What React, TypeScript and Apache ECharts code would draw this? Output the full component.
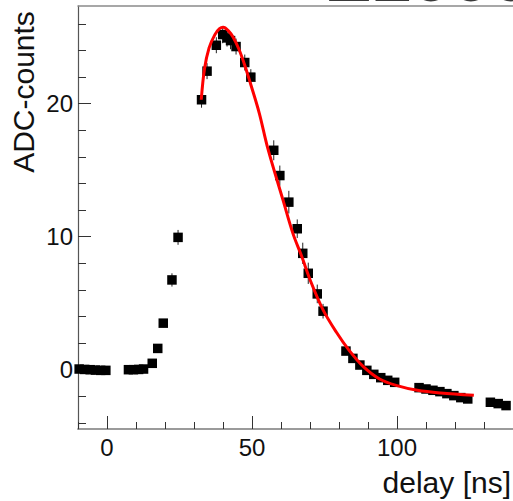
import React, { useEffect, useRef } from "react";
import * as echarts from "echarts";

// measured points: delay [ns], ADC counts, error
const delays = [
  -9.6, -7.7, -5.8, -4.0, -2.2, -0.4,
  7.4, 9.1, 10.9, 12.6,
  15.6, 17.5, 19.4, 22.4, 24.5,
  32.6, 34.5, 37.7, 39.9, 41.4, 42.6, 44.5, 47.5, 49.6,
  57.5, 59.6, 62.7, 65.6, 67.5, 69.4, 72.5, 74.5,
  82.4, 84.8, 87.2, 89.6, 92.0, 94.4, 96.8, 99.2,
  107.6, 110.0, 112.4, 114.8, 117.2, 119.6, 122.0, 124.4,
  132.2, 134.9, 137.6,
];
const counts = [
  0.05, 0.02, 0.0, -0.03, -0.05, -0.05,
  0.0, 0.0, 0.02, 0.05,
  0.48, 1.6, 3.5, 6.75, 9.95,
  20.3, 22.45, 24.4, 25.2, 24.95, 24.75, 24.3, 23.1, 22.0,
  16.5, 14.6, 12.6, 10.6, 8.75, 7.25, 5.7, 4.4,
  1.4, 0.85, 0.35, -0.05, -0.35, -0.6, -0.8, -0.95,
  -1.35, -1.45, -1.55, -1.65, -1.8, -1.95, -2.1, -2.2,
  -2.45, -2.55, -2.7,
];
const errors = [
  0.1, 0.1, 0.1, 0.1, 0.1, 0.1,
  0.1, 0.1, 0.1, 0.1,
  0.2, 0.25, 0.3, 0.5, 0.56,
  0.6, 0.6, 0.6, 0.65, 0.65, 0.65, 0.6, 0.6, 0.6,
  0.75, 0.75, 0.85, 0.7, 0.8, 0.8, 0.7, 0.55,
  0.3, 0.3, 0.3, 0.3, 0.3, 0.3, 0.3, 0.3,
  0.3, 0.3, 0.3, 0.3, 0.3, 0.3, 0.3, 0.3,
  0.3, 0.3, 0.3,
];

// fitted curve
const fitX = [32.5, 33.6, 35.2, 37.2, 38.8, 40.1, 41.8, 43.5, 45.5, 47.5, 49.5, 52.5, 55.5, 60.7, 64.1, 67.0, 70.5, 74.5, 79.0, 83.5, 88.3, 94.0, 100.0, 107.0, 115.0, 126.5];
const fitY = [20.3, 22.6, 24.2, 25.2, 25.65, 25.75, 25.5, 25.0, 24.1, 22.9, 21.5, 19.3, 16.6, 12.75, 10.25, 8.6, 6.5, 4.5, 2.85, 1.45, 0.25, -0.7, -1.2, -1.55, -1.75, -1.92];

const xMajor = [0, 50, 100];
const xMinor = [-10, 0, 10, 20, 30, 40, 50, 60, 70, 80, 90, 100, 110, 120, 130, 140];
const yMajor = [0, 10, 20];
const yMinor = [-4, -2, 0, 2, 4, 6, 8, 10, 12, 14, 16, 18, 20, 22, 24, 26];

const X_MIN = -10;
const X_MAX = 140;
const Y_MIN = -4.46;
const Y_MAX = 27.35;

const FONT = "'Liberation Sans', Arial, sans-serif";

export default function App() {
  const ref = useRef<HTMLDivElement>(null);
  useEffect(() => {
    if (!ref.current) return;
    const chart = echarts.init(ref.current, undefined, { renderer: "svg" });
    const points = delays.map((d, i) => [d, counts[i], errors[i]]);
    const fit = fitX.map((x, i) => [x, fitY[i]]);
    const xBase = { type: "value", min: X_MIN, max: X_MAX, splitLine: { show: false }, minorSplitLine: { show: false } };
    const yBase = { type: "value", min: Y_MIN, max: Y_MAX, splitLine: { show: false }, minorSplitLine: { show: false } };
    chart.setOption({
      animation: false,
      backgroundColor: "#ffffff",
      grid: { left: 78, top: 6, right: 0, bottom: 72, containLabel: false },
      xAxis: [
        {
          ...xBase,
          position: "bottom",
          axisLine: { show: true, onZero: false, lineStyle: { color: "#7a7a7a", width: 1.7 } },
          axisTick: { show: true, inside: true, length: 7, customValues: xMinor, lineStyle: { color: "#333" } },
          axisLabel: { show: false },
        },
        {
          ...xBase,
          position: "bottom",
          axisLine: { show: false, onZero: false },
          axisTick: { show: true, inside: true, length: 13, customValues: xMajor, lineStyle: { color: "#333" } },
          axisLabel: { show: true, customValues: xMajor, margin: 6, fontSize: 24, color: "#111", fontFamily: FONT },
        },
        {
          ...xBase,
          position: "top",
          axisLine: { show: true, onZero: false, lineStyle: { color: "#8a8a8a", width: 1.5 } },
          axisTick: { show: false },
          axisLabel: { show: false },
        },
      ],
      yAxis: [
        {
          ...yBase,
          position: "left",
          axisLine: { show: true, onZero: false, lineStyle: { color: "#555", width: 1.2 } },
          axisTick: { show: true, inside: true, length: 8, customValues: yMinor, lineStyle: { color: "#333" } },
          axisLabel: { show: false },
        },
        {
          ...yBase,
          position: "left",
          axisLine: { show: false, onZero: false },
          axisTick: { show: true, inside: true, length: 13, customValues: yMajor, lineStyle: { color: "#333" } },
          axisLabel: { show: true, customValues: yMajor, margin: 5, fontSize: 24, color: "#111", fontFamily: FONT },
        },
      ],
      graphic: [
        {
          type: "text",
          x: 23,
          y: 92,
          rotation: Math.PI / 2,
          style: { text: "ADC-counts", fontSize: 30, fontFamily: FONT, fill: "#111", align: "center", verticalAlign: "middle" },
        },
        {
          type: "text",
          x: 511,
          y: 482,
          style: { text: "delay [ns]", fontSize: 30, fontFamily: FONT, fill: "#111", align: "right", verticalAlign: "middle" },
        },
        {
          type: "text",
          x: 327,
          y: -24,
          style: { text: "Z1000", fontSize: 72, fontWeight: "bold", fontFamily: FONT, fill: "#3a3a3a", align: "left", verticalAlign: "middle" },
        },
      ],
      series: [
        {
          type: "custom",
          xAxisIndex: 0,
          yAxisIndex: 0,
          data: points,
          encode: { x: 0, y: 1 },
          clip: false,
          renderItem: (params: any, api: any) => {
            const x = api.value(0);
            const y = api.value(1);
            const e = api.value(2);
            const p1 = api.coord([x, y + e]);
            const p2 = api.coord([x, y - e]);
            return {
              type: "line",
              shape: { x1: p1[0], y1: p1[1], x2: p2[0], y2: p2[1] },
              style: { stroke: "#222", lineWidth: 1 },
            };
          },
          z: 2,
        },
        {
          type: "scatter",
          xAxisIndex: 0,
          yAxisIndex: 0,
          data: points.map((p) => [p[0], p[1]]),
          symbol: "rect",
          symbolSize: 9.5,
          clip: false,
          itemStyle: { color: "#000", opacity: 1 },
          z: 3,
        },
        {
          type: "line",
          xAxisIndex: 0,
          yAxisIndex: 0,
          data: fit,
          smooth: 0.35,
          showSymbol: false,
          symbol: "none",
          lineStyle: { color: "#ff0000", width: 3 },
          z: 4,
        },
      ],
    });
    return () => chart.dispose();
  }, []);
  return (
    <div
      ref={ref}
      style={{ position: "fixed", left: 0, top: 0, width: 513, height: 501, background: "#fff" }}
    />
  );
}
